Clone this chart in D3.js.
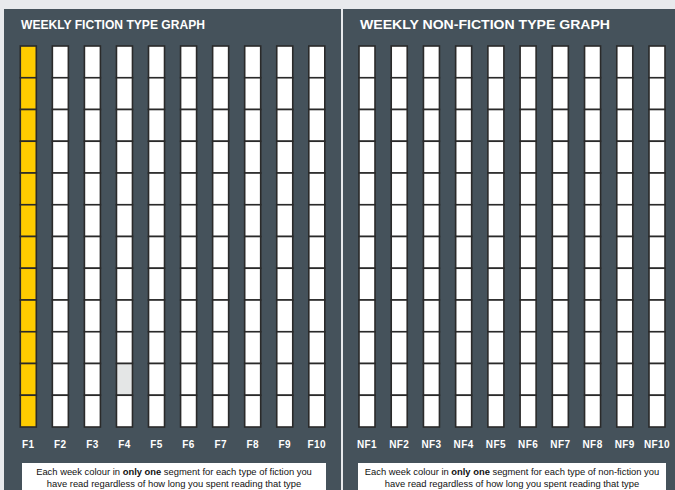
<!DOCTYPE html>
<html>
<head>
<meta charset="utf-8">
<script src="https://cdn.jsdelivr.net/npm/d3@7"></script>
<style>
  body { margin: 0; background: #e8eaed; }
  svg text { font-family: "Liberation Sans", Arial, sans-serif; }
</style>
</head>
<body>
<svg class="chart"></svg>
<script>
  // data
  var fictionTypes = ["F1", "F2", "F3", "F4", "F5", "F6", "F7", "F8", "F9", "F10"];
  var nonFictionTypes = ["NF1", "NF2", "NF3", "NF4", "NF5", "NF6", "NF7", "NF8", "NF9", "NF10"];
  var weeks = [12, 11, 10, 9, 8, 7, 6, 5, 4, 3, 2, 1];
  // number of weeks coloured (from the bottom) for each type
  var fictionColoured = [12, 0, 0, 0, 0, 0, 0, 0, 0, 0];
  var nonFictionColoured = [0, 0, 0, 0, 0, 0, 0, 0, 0, 0];
  // faintly shaded segments [type, week]
  var fictionShaded = [["F4", 2]];
  var nonFictionShaded = [];

  var width = 675, height = 490;
  var panelColor = "#45525b";
  var fillColor = "#ffcc00";

  var chart = d3.select(".chart")
    .attr("width", width)
    .attr("height", height);

  chart.append("rect").attr("width", width).attr("height", height).attr("fill", "#e8eaed");

  var y = d3.scaleBand()
    .domain(weeks)
    .range([46, 427]);

  function drawPanel(opts) {
    var g = chart.append("g");

    g.append("rect")
      .attr("x", opts.x0).attr("y", 9)
      .attr("width", opts.x1 - opts.x0).attr("height", height - 9)
      .attr("fill", panelColor);

    g.append("text")
      .attr("x", opts.titleX).attr("y", 29)
      .attr("fill", "white")
      .attr("font-weight", "bold")
      .attr("font-size", "13px")
      .attr("textLength", opts.titleLen)
      .attr("lengthAdjust", "spacingAndGlyphs")
      .text(opts.title);

    var x = d3.scalePoint()
      .domain(opts.types)
      .range(opts.centers);

    var barW = 16;

    var cols = g.selectAll("g.col")
      .data(opts.types)
      .enter().append("g")
      .attr("class", "col")
      .attr("transform", function(d) { return "translate(" + (x(d) - barW / 2) + ",0)"; });

    cols.selectAll("rect")
      .data(function(d, i) {
        return weeks.map(function(w) {
          var shaded = opts.shaded.some(function(s) { return s[0] === d && s[1] === w; });
          return { type: d, week: w, filled: w <= opts.coloured[i], shaded: shaded };
        });
      })
      .enter().append("rect")
      .attr("x", 0)
      .attr("y", function(d) { return y(d.week); })
      .attr("width", barW)
      .attr("height", y.bandwidth())
      .attr("fill", function(d) { return d.filled ? fillColor : (d.shaded ? "#e4e6e6" : "white"); })
      .attr("stroke", "#2a2a2a")
      .attr("stroke-width", 1.6);

    g.selectAll("text.lbl")
      .data(opts.types)
      .enter().append("text")
      .attr("class", "lbl")
      .attr("x", function(d) { return x(d); })
      .attr("y", 448)
      .attr("text-anchor", "middle")
      .attr("fill", "white")
      .attr("font-weight", "bold")
      .attr("font-size", "10px")
      .attr("letter-spacing", "0.4px")
      .text(function(d) { return d; });

    g.append("rect")
      .attr("x", opts.boxX0).attr("y", 463)
      .attr("width", opts.boxX1 - opts.boxX0).attr("height", 30)
      .attr("fill", "white");

    var boxMid = (opts.boxX0 + opts.boxX1) / 2;
    var line1 = g.append("text")
      .attr("x", boxMid).attr("y", 475)
      .attr("text-anchor", "middle")
      .attr("font-size", "9.4px")
      .attr("fill", "#111");
    line1.append("tspan").text("Each week colour in ");
    line1.append("tspan").attr("font-weight", "bold").text("only one");
    line1.append("tspan").text(" segment for each type of " + opts.kind + " you");

    g.append("text")
      .attr("x", boxMid).attr("y", 486.5)
      .attr("text-anchor", "middle")
      .attr("font-size", "9.4px")
      .attr("fill", "#111")
      .text("have read regardless of how long you spent reading that type");
  }

  drawPanel({
    x0: 4, x1: 341, title: "WEEKLY FICTION TYPE GRAPH", titleX: 21, titleLen: 184,
    types: fictionTypes, centers: [28.3, 316.8], coloured: fictionColoured, shaded: fictionShaded,
    boxX0: 22, boxX1: 326, kind: "fiction"
  });

  drawPanel({
    x0: 343, x1: 675, title: "WEEKLY NON-FICTION TYPE GRAPH", titleX: 360, titleLen: 250,
    types: nonFictionTypes, centers: [367, 657], coloured: nonFictionColoured, shaded: nonFictionShaded,
    boxX0: 358, boxX1: 666, kind: "non-fiction"
  });
</script>
</body>
</html>
